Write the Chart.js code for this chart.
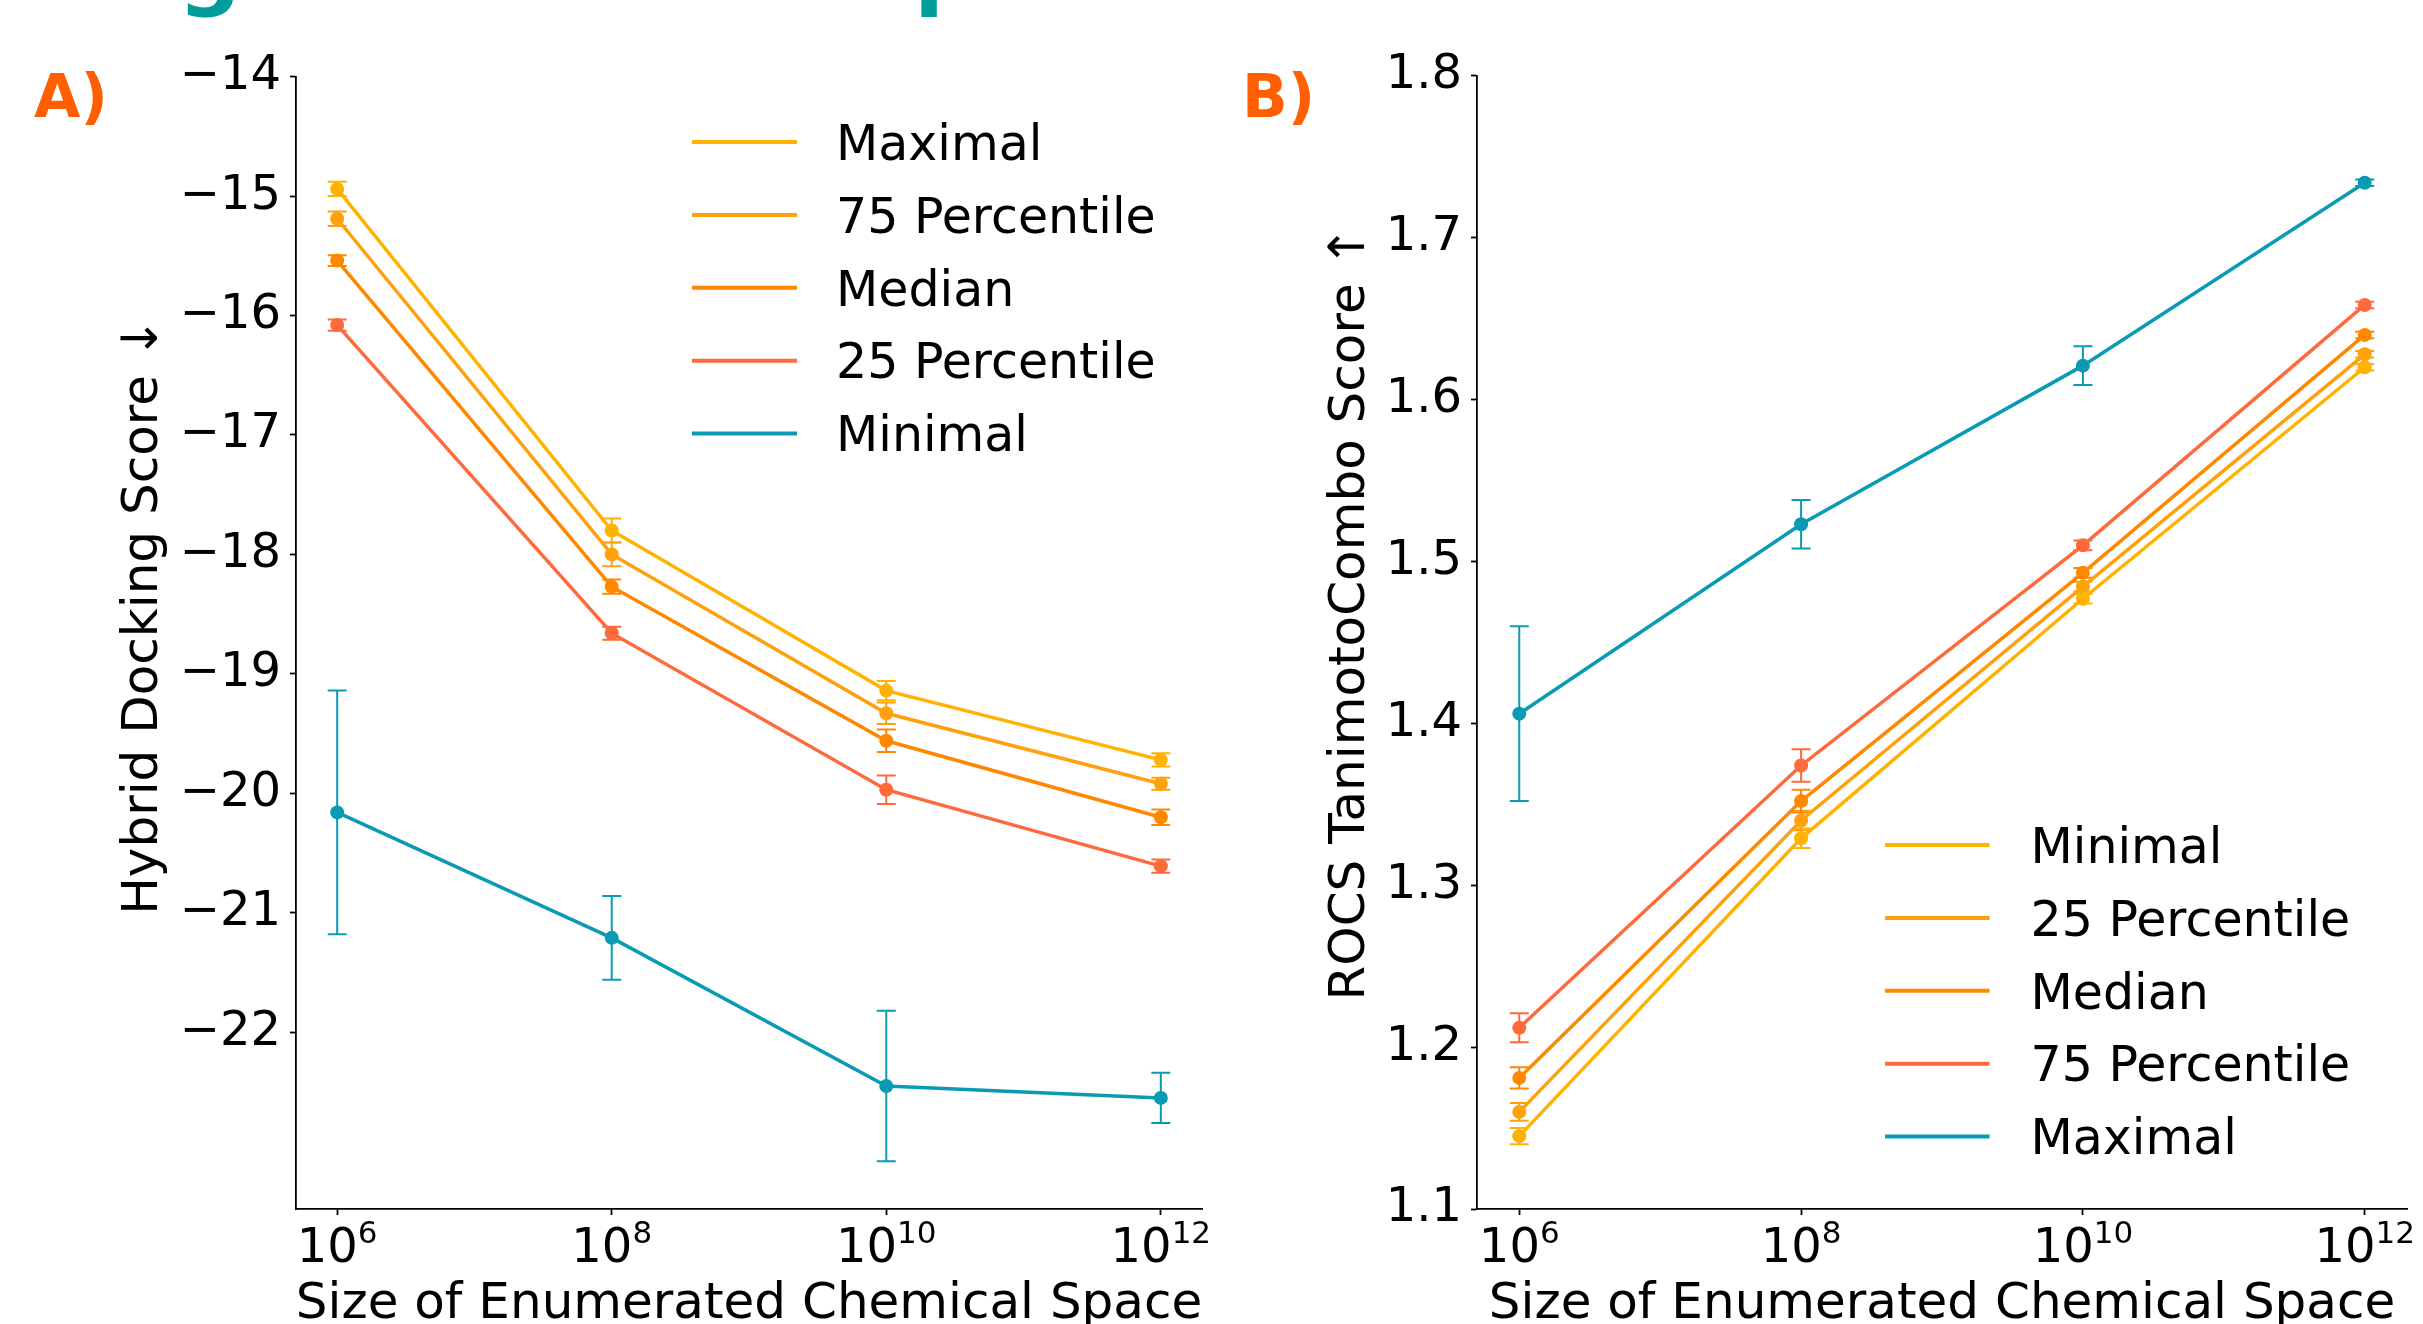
<!DOCTYPE html>
<html>
<head>
<meta charset="utf-8">
<title>Chemical space scaling</title>
<script src="https://cdn.jsdelivr.net/npm/chart.js@4.4.1/dist/chart.umd.min.js"></script>
<style>
    html, body { margin: 0; padding: 0; background: #fff; }
    #wrap { position: relative; width: 2423px; height: 1324px; overflow: hidden; background: #fff; }
    #wrap canvas { position: absolute; top: 0; }
    #chartA { left: 0; }
    #chartB { left: 1240px; }
</style>
</head>
<body>
<div id="wrap">
    <canvas id="chartA" width="1240" height="1324"></canvas>
    <canvas id="chartB" width="1183" height="1324"></canvas>
</div>
<script>
// ===================================================================
// DADOS DO GRÁFICO
// ===================================================================

// --- Eixo X: tamanho do espaço químico enumerado ---
const spaceSizes = [1e6, 1e8, 1e10, 1e12];

// --- Painel A: Hybrid Docking Score (menor é melhor) ---
const dockLabels = ['Maximal', '75 Percentile', 'Median', '25 Percentile', 'Minimal'];
const dockMaximal = [-14.94, -17.80, -19.14, -19.72];
const dockP75 = [-15.19, -18.00, -19.33, -19.92];
const dockMedian = [-15.54, -18.27, -19.56, -20.20];
const dockP25 = [-16.08, -18.66, -19.97, -20.61];
const dockMinimal = [-20.16, -21.21, -22.45, -22.55];
const dockErrMaximal = [0.06, 0.10, 0.08, 0.055];
const dockErrP75 = [0.06, 0.10, 0.09, 0.05];
const dockErrMedian = [0.045, 0.06, 0.095, 0.065];
const dockErrP25 = [0.047, 0.055, 0.12, 0.055];
const dockErrMinimal = [1.02, 0.35, 0.63, 0.21];
const dockTicks = [-14, -15, -16, -17, -18, -19, -20, -21, -22];

// --- Painel B: ROCS TanimotoCombo Score (maior é melhor) ---
const rocsLabels = ['Minimal', '25 Percentile', 'Median', '75 Percentile', 'Maximal'];
const rocsMinimal = [1.145, 1.329, 1.477, 1.620];
const rocsP25 = [1.160, 1.340, 1.4845, 1.628];
const rocsMedian = [1.181, 1.352, 1.493, 1.640];
const rocsP75 = [1.212, 1.374, 1.510, 1.6585];
const rocsMaximal = [1.406, 1.523, 1.621, 1.734];
const rocsErrMinimal = [0.005, 0.006, 0.003, 0.002];
const rocsErrP25 = [0.0055, 0.006, 0.003, 0.002];
const rocsErrMedian = [0.0065, 0.007, 0.003, 0.002];
const rocsErrP75 = [0.009, 0.010, 0.003, 0.002];
const rocsErrMaximal = [0.054, 0.015, 0.012, 0.002];
const rocsTicks = [1.1, 1.2, 1.3, 1.4, 1.5, 1.6, 1.7, 1.8];

// --- Cores (do melhor para o pior, mesma ordem nos dois painéis) ---
const COR_AMARELO = '#FFB300';
const COR_LARANJA_CLARO = '#FFA10F';
const COR_LARANJA = '#FF8800';
const COR_VERMELHO = '#FF6A3C';
const COR_AZUL = '#0A9AB4';
const COR_LETRA = '#FF5F00';
const COR_TITULO = '#009C9C';

const FONTE = 'DejaVu Sans';

// ===================================================================
// PLUGINS
// ===================================================================

/**
 * Plugin: errorBars
 * Desenha as barras de erro (linha vertical + "caps") usando as escalas do Chart.js.
 */
const errorBarsPlugin = {
    id: 'errorBars',
    beforeDatasetsDraw(chart, args, opts) {
        const ctx = chart.ctx;
        const xs = chart.scales.x;
        const ys = chart.scales.y;
        chart.data.datasets.forEach((ds, i) => {
            const errs = opts.errors[i];
            ctx.save();
            ctx.strokeStyle = ds.borderColor;
            ctx.lineWidth = 2;
            ds.data.forEach((pt, j) => {
                const px = xs.getPixelForValue(pt.x);
                const top = ys.getPixelForValue(pt.y + errs[j]);
                const bot = ys.getPixelForValue(pt.y - errs[j]);
                ctx.beginPath();
                ctx.moveTo(px, top);
                ctx.lineTo(px, bot);
                ctx.moveTo(px - 9.5, top);
                ctx.lineTo(px + 9.5, top);
                ctx.moveTo(px - 9.5, bot);
                ctx.lineTo(px + 9.5, bot);
                ctx.stroke();
            });
            ctx.restore();
        });
    }
};

/**
 * Plugin: textos
 * Títulos dos eixos, rótulos 10^n, letra do painel e legenda no estilo matplotlib.
 */
const textosPlugin = {
    id: 'textos',
    afterDraw(chart, args, opts) {
        const ctx = chart.ctx;
        const xs = chart.scales.x;
        ctx.save();
        ctx.fillStyle = '#000';

        // Rótulos do eixo X como potências de 10
        xs.ticks.forEach(t => {
            const px = xs.getPixelForValue(t.value);
            const exp = String(Math.round(Math.log10(t.value)));
            ctx.font = `48px "${FONTE}"`;
            const wBase = ctx.measureText('10').width;
            ctx.font = `31px "${FONTE}"`;
            const wExp = ctx.measureText(exp).width;
            const x0 = px - (wBase + wExp) / 2;
            ctx.textAlign = 'left';
            ctx.textBaseline = 'alphabetic';
            ctx.font = `48px "${FONTE}"`;
            ctx.fillText('10', x0, 1262);
            ctx.font = `31px "${FONTE}"`;
            ctx.fillText(exp, x0 + wBase, 1243);
        });

        // Título do eixo X
        ctx.font = `50px "${FONTE}"`;
        ctx.textAlign = 'center';
        ctx.fillText(opts.xTitle, (chart.chartArea.left + chart.chartArea.right) / 2, 1318);

        // Título do eixo Y (rotacionado)
        ctx.save();
        ctx.translate(opts.yTitleX, opts.yTitleY);
        ctx.rotate(-Math.PI / 2);
        ctx.fillText(opts.yTitle, 0, 0);
        ctx.restore();

        // Letra do painel
        ctx.fillStyle = COR_LETRA;
        ctx.font = `bold 60px "${FONTE}"`;
        ctx.textAlign = 'left';
        ctx.fillText(opts.letter, opts.letterX, 117);

        // Legenda
        const lg = opts.legend;
        chart.data.datasets.forEach((ds, i) => {
            const ly = lg.y0 + i * lg.dy;
            ctx.strokeStyle = ds.borderColor;
            ctx.lineWidth = 4;
            ctx.beginPath();
            ctx.moveTo(lg.x0, ly);
            ctx.lineTo(lg.x1, ly);
            ctx.stroke();
            ctx.fillStyle = '#000';
            ctx.font = `49px "${FONTE}"`;
            ctx.textBaseline = 'middle';
            ctx.fillText(ds.label, lg.tx, ly + 5);
            ctx.textBaseline = 'alphabetic';
        });

        // Restos do título da figura (cortado no topo)
        if (opts.cutTitle) {
            ctx.fillStyle = COR_TITULO;
            ctx.font = `bold 88px "${FONTE}"`;
            opts.cutTitle.forEach(c => ctx.fillText(c.text, c.x, -1));
        }
        ctx.restore();
    }
};

// ===================================================================
// CONSTRUÇÃO DOS GRÁFICOS
// ===================================================================

function makeDataset(label, values, color) {
    return {
        label: label,
        data: values.map((v, j) => ({ x: spaceSizes[j], y: v })),
        borderColor: color,
        backgroundColor: color,
        pointBackgroundColor: color,
        pointBorderWidth: 0,
        pointRadius: 7,
        borderWidth: 3.5,
        tension: 0,
        fill: false
    };
}

function makeChart(canvasId, cfg) {
    const ctx = document.getElementById(canvasId).getContext('2d');
    return new Chart(ctx, {
        type: 'line',
        data: { datasets: cfg.datasets },
        plugins: [errorBarsPlugin, textosPlugin],
        options: {
            responsive: false,
            animation: false,
            devicePixelRatio: 1,
            events: [],
            layout: { padding: { top: cfg.top, right: cfg.right, left: 0, bottom: 0 } },
            scales: {
                x: {
                    type: 'logarithmic',
                    min: Math.pow(10, 5.7),
                    max: Math.pow(10, 12.3),
                    afterBuildTicks: s => { s.ticks = spaceSizes.map(v => ({ value: v })); },
                    afterFit: s => { s.height = 1324 - 1209; },
                    ticks: { display: false },
                    grid: { drawOnChartArea: false, drawTicks: true, tickLength: 6, tickColor: '#000', tickWidth: 1.8 },
                    border: { display: true, color: '#000', width: 1.8 }
                },
                y: {
                    type: 'linear',
                    min: cfg.yMin,
                    max: cfg.yMax,
                    afterBuildTicks: s => { s.ticks = cfg.yTicks.map(v => ({ value: v })); },
                    afterFit: s => { s.width = cfg.left; },
                    ticks: {
                        color: '#000',
                        padding: 9,
                        font: { family: FONTE, size: 48 },
                        callback: cfg.tickFormat
                    },
                    grid: { drawOnChartArea: false, drawTicks: true, tickLength: 6, tickColor: '#000', tickWidth: 1.8 },
                    border: { display: true, color: '#000', width: 1.8 }
                }
            },
            plugins: {
                legend: { display: false },
                tooltip: { enabled: false },
                errorBars: { errors: cfg.errors },
                textos: cfg.textos
            }
        }
    });
}

// --- Ponto de Entrada ---
document.addEventListener('DOMContentLoaded', () => {
    // Painel A
    makeChart('chartA', {
        datasets: [
            makeDataset(dockLabels[0], dockMaximal, COR_AMARELO),
            makeDataset(dockLabels[1], dockP75, COR_LARANJA_CLARO),
            makeDataset(dockLabels[2], dockMedian, COR_LARANJA),
            makeDataset(dockLabels[3], dockP25, COR_VERMELHO),
            makeDataset(dockLabels[4], dockMinimal, COR_AZUL)
        ],
        errors: [dockErrMaximal, dockErrP75, dockErrMedian, dockErrP25, dockErrMinimal],
        yMin: -23.48,
        yMax: -14,
        yTicks: dockTicks,
        tickFormat: v => (v < 0 ? '\u2212' : '') + Math.abs(v),
        top: 76.6,
        right: 1240 - 1202,
        left: 296,
        textos: {
            xTitle: 'Size of Enumerated Chemical Space',
            yTitle: 'Hybrid Docking Score \u2193',
            yTitleX: 157,
            yTitleY: 616,
            letter: 'A)',
            letterX: 34,
            legend: { x0: 692, x1: 797, tx: 836, y0: 142, dy: 72.9 },
            cutTitle: [{ text: 'g', x: 178 }, { text: 'p', x: 914 }]
        }
    });

    // Painel B
    makeChart('chartB', {
        datasets: [
            makeDataset(rocsLabels[0], rocsMinimal, COR_AMARELO),
            makeDataset(rocsLabels[1], rocsP25, COR_LARANJA_CLARO),
            makeDataset(rocsLabels[2], rocsMedian, COR_LARANJA),
            makeDataset(rocsLabels[3], rocsP75, COR_VERMELHO),
            makeDataset(rocsLabels[4], rocsMaximal, COR_AZUL)
        ],
        errors: [rocsErrMinimal, rocsErrP25, rocsErrMedian, rocsErrP75, rocsErrMaximal],
        yMin: 1.1,
        yMax: 1.8,
        yTicks: rocsTicks,
        tickFormat: v => v.toFixed(1),
        top: 75.9,
        right: 1183 - (2407 - 1240),
        left: 1477 - 1240,
        textos: {
            xTitle: 'Size of Enumerated Chemical Space',
            yTitle: 'ROCS TanimotoCombo Score \u2191',
            yTitleX: 124,
            yTitleY: 613,
            letter: 'B)',
            letterX: 2,
            legend: { x0: 645, x1: 749.6, tx: 790.5, y0: 845, dy: 72.9 },
            cutTitle: null
        }
    });
});
</script>
</body>
</html>
